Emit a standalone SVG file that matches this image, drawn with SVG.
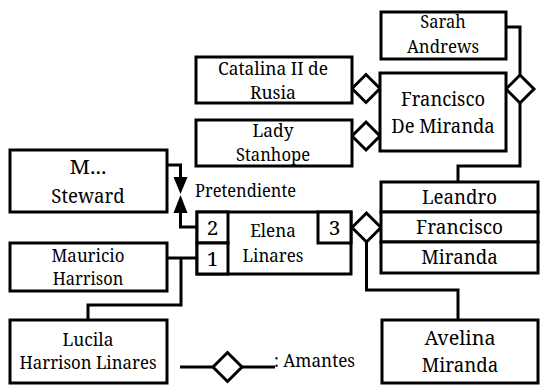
<svg xmlns="http://www.w3.org/2000/svg" width="540" height="391" viewBox="0 0 540 391">
  <style>
    .box { fill: #fff; stroke: #000; stroke-width: 3; }
    .wire { fill: none; stroke: #000; stroke-width: 3; }
    .dia { fill: #fff; stroke: #000; stroke-width: 3; stroke-linejoin: miter; }
    .arr { fill: #000; stroke: none; }
    text { font-family: "Noto Serif", "DejaVu Serif", serif; fill: #000; text-anchor: middle; }
    .t20 { font-size: 18.5px; }
    .t22 { font-size: 20.8px; }
    .big { font-size: 19.9px; }
    .l { text-anchor: start; }
  </style>
  <rect width="540" height="391" fill="#fff"/>

  <!-- connectors -->
  <g id="connectors">
    <!-- Sarah Andrews to Francisco de Miranda (diamond) and on to the Leandro/Francisco/Miranda stack -->
    <polyline class="wire" points="506,27 520,27 520,75"/>
    <polyline class="wire" points="520,103 520,166 458,166 458,182"/>
    <!-- Steward pretendiente arrows -->
    <polyline class="wire" points="167,165 180.5,165 180.5,178"/>
    <polyline class="wire" points="197,227 180.5,227 180.5,212"/>
    <polygon class="arr" points="173.5,177 187.5,177 180.5,194"/>
    <polygon class="arr" points="173.5,213 187.5,213 180.5,195"/>
    <!-- Mauricio Harrison to Elena (1) and their daughter Lucila -->
    <polyline class="wire" points="167,258 197,258"/>
    <polyline class="wire" points="181,258 181,305 88,305 88,320"/>
    <!-- Elena (3) to Leandro stack, daughter Avelina -->
    <polyline class="wire" points="366.5,242 366.5,290 458,290 458,320"/>
    <!-- diamonds -->
    <polygon class="dia" points="352,88.5 366,74.5 380,88.5 366,102.5"/>
    <polygon class="dia" points="352,136 366,122 380,136 366,150"/>
    <polygon class="dia" points="506,89 520,75 534,89 520,103"/>
    <polygon class="dia" points="352,227.5 366.5,213 381,227.5 366.5,242"/>
  </g>

  <g id="sarah">
    <rect class="box" x="381" y="12" width="125" height="47"/>
    <text class="t20" x="443" y="28" textLength="45.5" lengthAdjust="spacingAndGlyphs">Sarah</text>
    <text class="t20" x="443" y="53" textLength="72" lengthAdjust="spacingAndGlyphs">Andrews</text>
  </g>

  <g id="catalina">
    <rect class="box" x="196" y="57" width="156" height="46"/>
    <text class="t20" x="273" y="75" textLength="110" lengthAdjust="spacingAndGlyphs">Catalina II de</text>
    <text class="t20" x="273" y="99" textLength="46" lengthAdjust="spacingAndGlyphs">Rusia</text>
  </g>

  <g id="francisco-de-miranda">
    <rect class="box" x="380" y="73" width="126" height="78"/>
    <text class="big" x="443" y="106" textLength="84" lengthAdjust="spacingAndGlyphs">Francisco</text>
    <text class="big" x="443" y="133" textLength="103.5" lengthAdjust="spacingAndGlyphs">De Miranda</text>
  </g>

  <g id="stanhope">
    <rect class="box" x="196" y="120" width="156" height="46"/>
    <text class="t20" x="273" y="137" textLength="41" lengthAdjust="spacingAndGlyphs">Lady</text>
    <text class="t20" x="273" y="160.5" textLength="74" lengthAdjust="spacingAndGlyphs">Stanhope</text>
  </g>

  <g id="steward">
    <rect class="box" x="10" y="150" width="157" height="62"/>
    <text class="t22" x="88" y="174" textLength="37" lengthAdjust="spacingAndGlyphs">M...</text>
    <text class="t22" x="88" y="203" textLength="73.5" lengthAdjust="spacingAndGlyphs">Steward</text>
  </g>

  <g id="pretendiente-label">
    <text class="t20 l" x="195" y="197" textLength="101" lengthAdjust="spacingAndGlyphs">Pretendiente</text>
  </g>

  <g id="elena">
    <rect class="box" x="197" y="212" width="154" height="62"/>
    <rect class="box" x="197" y="212" width="31" height="31"/>
    <rect class="box" x="197" y="243" width="31" height="31"/>
    <rect class="box" x="318" y="212" width="33" height="31"/>
    <text class="t22" x="212.5" y="235">2</text>
    <text class="t22" x="212.5" y="266">1</text>
    <text class="t22" x="334.5" y="235">3</text>
    <text class="t20" x="273" y="237" textLength="45.5" lengthAdjust="spacingAndGlyphs">Elena</text>
    <text class="t20" x="273" y="262" textLength="61" lengthAdjust="spacingAndGlyphs">Linares</text>
  </g>

  <g id="leandro-stack">
    <rect class="box" x="381" y="182" width="157" height="30"/>
    <rect class="box" x="381" y="212" width="157" height="30"/>
    <rect class="box" x="381" y="242" width="157" height="31"/>
    <text class="t22" x="459.5" y="204" textLength="75" lengthAdjust="spacingAndGlyphs">Leandro</text>
    <text class="t22" x="459.5" y="234" textLength="87" lengthAdjust="spacingAndGlyphs">Francisco</text>
    <text class="t22" x="459.5" y="264" textLength="76.5" lengthAdjust="spacingAndGlyphs">Miranda</text>
  </g>

  <g id="mauricio">
    <rect class="box" x="10" y="243" width="157" height="48"/>
    <text class="t20" x="88" y="262" textLength="73" lengthAdjust="spacingAndGlyphs">Mauricio</text>
    <text class="t20" x="88" y="285" textLength="70.5" lengthAdjust="spacingAndGlyphs">Harrison</text>
  </g>

  <g id="lucila">
    <rect class="box" x="10" y="320" width="157" height="63"/>
    <text class="t20" x="88" y="346" textLength="51" lengthAdjust="spacingAndGlyphs">Lucila</text>
    <text class="t20" x="88" y="369" textLength="137" lengthAdjust="spacingAndGlyphs">Harrison Linares</text>
  </g>

  <g id="avelina">
    <rect class="box" x="382" y="320" width="156" height="63"/>
    <text class="t22" x="460" y="345" textLength="71" lengthAdjust="spacingAndGlyphs">Avelina</text>
    <text class="t22" x="460" y="372" textLength="76.5" lengthAdjust="spacingAndGlyphs">Miranda</text>
  </g>

  <g id="legend">
    <line class="wire" x1="180" y1="367" x2="275" y2="367"/>
    <polygon class="dia" points="213,367 227.5,352.5 242,367 227.5,381.5"/>
    <text class="t20 l" x="274" y="367" textLength="81" lengthAdjust="spacingAndGlyphs">: Amantes</text>
  </g>
</svg>
